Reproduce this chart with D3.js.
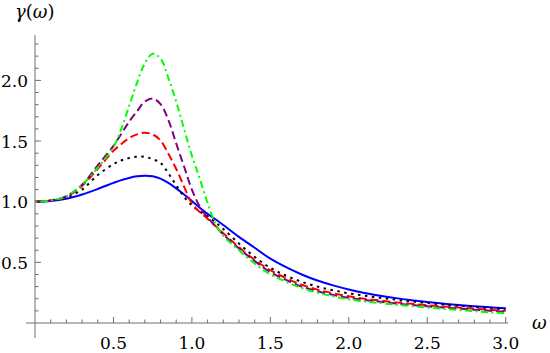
<!DOCTYPE html>
<html>
<head>
<meta charset="utf-8">
<script src="https://cdn.jsdelivr.net/npm/d3@7"></script>
<style>
body { margin: 0; background: white; }
</style>
</head>
<body>
<script>
var w = 550;
var h = 353;

var omega = [0, 0.1, 0.2, 0.3, 0.4, 0.5, 0.55, 0.6, 0.65, 0.7, 0.75, 0.8, 0.85, 0.9, 0.95, 1.0,
    1.05, 1.1, 1.15, 1.2, 1.3, 1.4, 1.5, 1.6, 1.7, 1.8, 1.9, 2.0, 2.1, 2.2, 2.3, 2.4, 2.5,
    2.6, 2.7, 2.8, 2.9, 3.0];

var blueSolid = [1.0, 1.006, 1.025, 1.06, 1.105, 1.155, 1.178, 1.196, 1.209, 1.214, 1.21, 1.19, 1.155, 1.11, 1.06, 1.005,
    0.95, 0.9, 0.855, 0.808, 0.71, 0.62, 0.53, 0.46, 0.4, 0.35, 0.31, 0.276, 0.248, 0.225, 0.205, 0.188, 0.173,
    0.16, 0.148, 0.138, 0.129, 0.121];
var blackDotted = [1.0, 1.008, 1.035, 1.1, 1.22, 1.31, 1.34, 1.36, 1.37, 1.37, 1.35, 1.32, 1.234, 1.135, 1.04, 0.97,
    0.92, 0.88, 0.83, 0.775, 0.655, 0.545, 0.455, 0.39, 0.34, 0.3, 0.27, 0.245, 0.225, 0.208, 0.192, 0.178, 0.165,
    0.153, 0.142, 0.132, 0.122, 0.113];
var redDashed = [1.0, 1.01, 1.04, 1.13, 1.27, 1.42, 1.475, 1.525, 1.555, 1.568, 1.555, 1.505, 1.395, 1.27, 1.125, 0.985,
    0.915, 0.86, 0.8, 0.74, 0.625, 0.52, 0.435, 0.37, 0.315, 0.275, 0.245, 0.22, 0.2, 0.185, 0.17, 0.158, 0.147,
    0.137, 0.127, 0.118, 0.109, 0.1];
var purpleDashed = [1.0, 1.01, 1.045, 1.14, 1.3, 1.46, 1.56, 1.66, 1.745, 1.825, 1.85, 1.805, 1.674, 1.48, 1.29, 1.1,
    0.96, 0.87, 0.8, 0.73, 0.615, 0.51, 0.42, 0.355, 0.3, 0.262, 0.232, 0.208, 0.19, 0.175, 0.161, 0.149, 0.138,
    0.128, 0.119, 0.11, 0.101, 0.093];
var greenDotDash = [1.0, 1.01, 1.045, 1.14, 1.28, 1.45, 1.6, 1.79, 1.98, 2.14, 2.22, 2.18, 2.02, 1.825, 1.6, 1.38,
    1.19, 0.99, 0.82, 0.72, 0.6, 0.49, 0.4, 0.34, 0.288, 0.25, 0.22, 0.195, 0.178, 0.164, 0.151, 0.139, 0.128,
    0.117, 0.107, 0.097, 0.088, 0.08];

var xTicks = [0.5, 1.0, 1.5, 2.0, 2.5, 3.0];
var yTicks = [0.5, 1.0, 1.5, 2.0];

var series = [
    { values: blueSolid, color: "#0000ff", dash: null },
    { values: blackDotted, color: "#000000", dash: "2.5,4.5" },
    { values: redDashed, color: "#ff0000", dash: "8,4" },
    { values: purpleDashed, color: "#800080", dash: "8,4" },
    { values: greenDotDash, color: "#00ff00", dash: "2,3.5,7,3.5" }
];

var serif = "DejaVu Serif";

var xScale = d3.scaleLinear()
    .domain([0, 3])
    .range([35, 505.7]);

var yScale = d3.scaleLinear()
    .domain([0, 1])
    .range([323, 201.7]);

var svg = d3.select("body")
    .append("svg")
    .attr("width", w)
    .attr("height", h)
    .attr("font-family", serif);

var axisColor = "#6e6e6e";

// axis lines, Mathematica style
svg.append("line")
    .attr("x1", xScale(-0.057)).attr("x2", xScale(3.015))
    .attr("y1", yScale(0)).attr("y2", yScale(0))
    .attr("stroke", axisColor).attr("stroke-width", 1);

svg.append("line")
    .attr("x1", xScale(0)).attr("x2", xScale(0))
    .attr("y1", yScale(2.374)).attr("y2", yScale(-0.124))
    .attr("stroke", axisColor).attr("stroke-width", 1);

var xMinor = d3.range(1, 31).map(function (i) { return i / 10; });
var yMinor = d3.range(1, 24).map(function (i) { return i / 10; });

svg.selectAll(".xtick")
    .data(xMinor)
    .enter()
    .append("line")
    .attr("x1", function (d) { return xScale(d); })
    .attr("x2", function (d) { return xScale(d); })
    .attr("y1", yScale(0))
    .attr("y2", function (d, i) {
        return yScale(0) - ((i + 1) % 5 == 0 ? 6 : 3.5);
    })
    .attr("stroke", axisColor);

svg.selectAll(".ytick")
    .data(yMinor)
    .enter()
    .append("line")
    .attr("y1", function (d) { return yScale(d); })
    .attr("y2", function (d) { return yScale(d); })
    .attr("x1", xScale(0))
    .attr("x2", function (d, i) {
        return xScale(0) + ((i + 1) % 5 == 0 ? 6 : 3.5);
    })
    .attr("stroke", axisColor);

svg.selectAll(".xlabel")
    .data(xTicks)
    .enter()
    .append("text")
    .attr("x", function (d) { return xScale(d); })
    .attr("y", 349)
    .attr("text-anchor", "middle")
    .attr("font-size", 17)
    .text(function (d) { return d.toFixed(1); });

svg.selectAll(".ylabel")
    .data(yTicks)
    .enter()
    .append("text")
    .attr("x", 28)
    .attr("y", function (d) { return yScale(d) + 6.5; })
    .attr("text-anchor", "end")
    .attr("font-size", 17)
    .text(function (d) { return d.toFixed(1); });

var yTitle = svg.append("text")
    .attr("x", 15)
    .attr("y", 18)
    .attr("font-size", 18);
yTitle.append("tspan").attr("font-style", "italic").text("γ");
yTitle.append("tspan").text("(");
yTitle.append("tspan").attr("font-style", "italic").text("ω");
yTitle.append("tspan").text(")");

svg.append("text")
    .attr("x", 532)
    .attr("y", 329)
    .attr("font-size", 18)
    .attr("font-style", "italic")
    .text("ω");

var line = d3.line()
    .x(function (d, i) { return xScale(omega[i]); })
    .y(function (d) { return yScale(d); })
    .curve(d3.curveCatmullRom.alpha(0.5));

svg.selectAll(".curve")
    .data(series)
    .enter()
    .append("path")
    .attr("d", function (d) { return line(d.values); })
    .attr("fill", "none")
    .attr("stroke", function (d) { return d.color; })
    .attr("stroke-width", 2)
    .attr("stroke-dasharray", function (d) { return d.dash; });
</script>
</body>
</html>
